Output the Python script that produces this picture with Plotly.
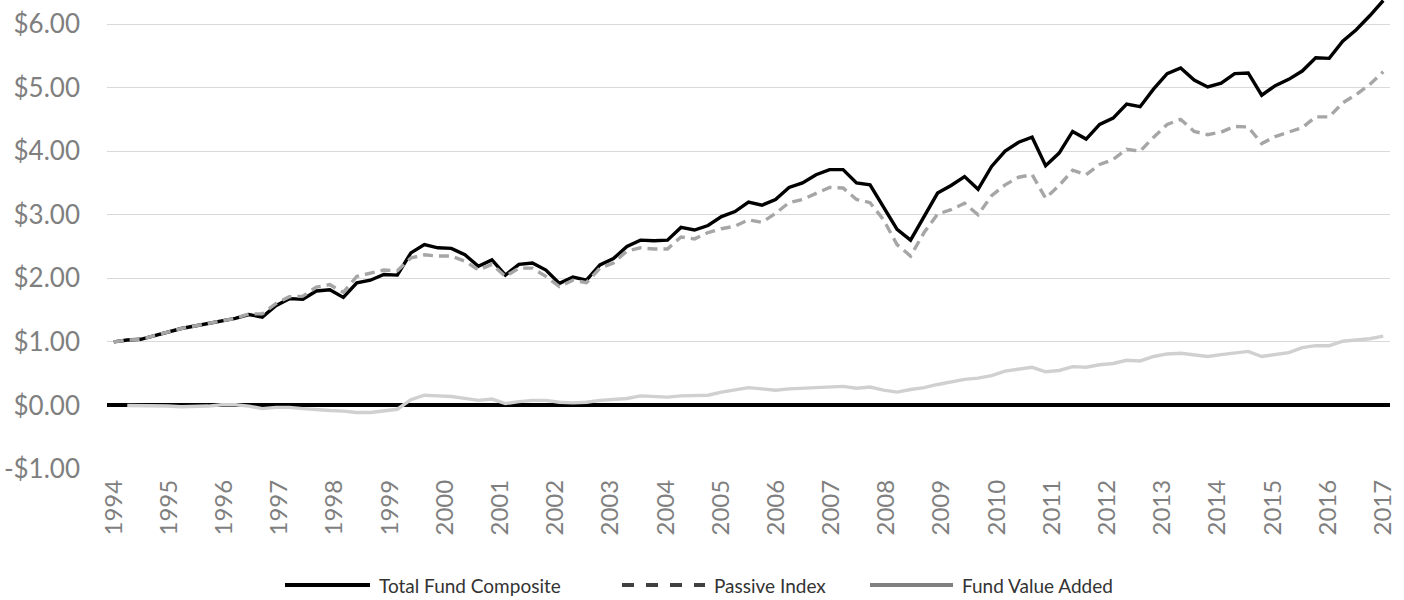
import plotly.graph_objects as go

years = [str(y) for y in range(1994, 2018)]

total_fund = [1.00, 1.03, 1.04, 1.10, 1.16, 1.21, 1.25, 1.29, 1.33, 1.37,
              1.43, 1.39, 1.57, 1.68, 1.67, 1.80, 1.82, 1.70, 1.93, 1.97,
              2.06, 2.05, 2.40, 2.53, 2.48, 2.47, 2.37, 2.19, 2.29, 2.05,
              2.22, 2.24, 2.13, 1.92, 2.02, 1.97, 2.21, 2.31, 2.50, 2.60,
              2.59, 2.60, 2.80, 2.76, 2.83, 2.97, 3.05, 3.20, 3.15, 3.24,
              3.43, 3.50, 3.63, 3.71, 3.71, 3.50, 3.47, 3.13, 2.77, 2.60,
              2.98, 3.34, 3.46, 3.60, 3.40, 3.76, 4.00, 4.14, 4.22, 3.77,
              3.97, 4.31, 4.19, 4.42, 4.52, 4.74, 4.70, 4.98, 5.22, 5.31,
              5.12, 5.01, 5.07, 5.22, 5.23, 4.88, 5.03, 5.13, 5.26, 5.47,
              5.46, 5.73, 5.91, 6.13, 6.37]

passive_index = [1.00, 1.03, 1.04, 1.10, 1.16, 1.21, 1.25, 1.29, 1.33, 1.37,
                 1.44, 1.44, 1.60, 1.71, 1.72, 1.86, 1.90, 1.78, 2.03, 2.08,
                 2.13, 2.12, 2.32, 2.37, 2.35, 2.35, 2.27, 2.13, 2.22, 2.03,
                 2.16, 2.16, 2.03, 1.87, 1.97, 1.93, 2.16, 2.24, 2.43, 2.48,
                 2.46, 2.46, 2.65, 2.62, 2.72, 2.78, 2.82, 2.92, 2.88, 3.02,
                 3.19, 3.24, 3.34, 3.43, 3.42, 3.24, 3.19, 2.92, 2.53, 2.35,
                 2.72, 3.01, 3.08, 3.18, 3.00, 3.30, 3.47, 3.59, 3.63, 3.26,
                 3.46, 3.70, 3.63, 3.79, 3.87, 4.03, 4.00, 4.22, 4.42, 4.50,
                 4.31, 4.26, 4.30, 4.39, 4.38, 4.12, 4.23, 4.30, 4.37, 4.54,
                 4.54, 4.76, 4.89, 5.05, 5.25]

value_added = [None, 0.00, 0.00, 0.00, -0.01, -0.02, -0.02, -0.01, 0.01, 0.01,
               -0.01, -0.05, -0.03, -0.03, -0.05, -0.07, -0.08, -0.09, -0.11, -0.11,
               -0.09, -0.06, 0.09, 0.16, 0.15, 0.14, 0.11, 0.08, 0.10, 0.03,
               0.06, 0.08, 0.08, 0.05, 0.04, 0.05, 0.08, 0.10, 0.11, 0.15,
               0.14, 0.13, 0.15, 0.15, 0.16, 0.21, 0.24, 0.28, 0.26, 0.24,
               0.26, 0.27, 0.27, 0.29, 0.30, 0.27, 0.29, 0.24, 0.21, 0.25,
               0.28, 0.33, 0.37, 0.41, 0.43, 0.47, 0.54, 0.57, 0.60, 0.53,
               0.55, 0.61, 0.60, 0.64, 0.66, 0.71, 0.70, 0.77, 0.81, 0.82,
               0.79, 0.77, 0.80, 0.83, 0.85, 0.77, 0.80, 0.83, 0.91, 0.94,
               0.94, 1.01, 1.03, 1.05, 1.09]

y_ticks = [-1, 0, 1, 2, 3, 4, 5, 6]
y_tick_text = ["-$1.00", "$0.00", "$1.00", "$2.00", "$3.00", "$4.00", "$5.00", "$6.00"]

series_names = ["Total Fund Composite", "Passive Index", "Fund Value Added"]

n = len(total_fund)
x = list(range(n))
# year labels spread evenly from the first to the last observation
tick_pos = [k * (n - 1) / (len(years) - 1) for k in range(len(years))]

fig = go.Figure()
fig.add_trace(go.Scatter(x=x, y=total_fund, mode="lines", name=series_names[0],
                         line=dict(color="#000000", width=3.4)))
fig.add_trace(go.Scatter(x=x, y=passive_index, mode="lines", name=series_names[1],
                         line=dict(color="#A6A6A6", width=3.4, dash="10px,6px")))
fig.add_trace(go.Scatter(x=x, y=value_added, mode="lines", name=series_names[2],
                         line=dict(color="#D0D0D0", width=3.4)))

font_family = "Lato, 'Open Sans', sans-serif"

fig.update_layout(
    width=1404, height=600,
    margin=dict(l=107, r=14, t=0, b=131),
    paper_bgcolor="white", plot_bgcolor="white",
    showlegend=False,
    xaxis=dict(range=[-0.5, n - 0.5], tickmode="array", tickvals=tick_pos,
               ticktext=years, tickangle=-90, showgrid=False, zeroline=False,
               showline=False, ticks="", ticklabelstandoff=5,
               tickfont=dict(family=font_family, size=24, color="#7F7F7F")),
    yaxis=dict(range=[-1, 6.378], tickmode="array", tickvals=y_ticks,
               ticktext=y_tick_text, showgrid=True, gridcolor="#D9D9D9", gridwidth=1.3,
               zeroline=True, zerolinecolor="#000000", zerolinewidth=3.5,
               showline=False, ticks="", ticklabelstandoff=26,
               tickfont=dict(family=font_family, size=26, color="#7F7F7F")),
)

# Legend drawn below the plot
legend_items = [
    (series_names[0], 285, 370, "#000000", "solid"),
    (series_names[1], 622, 705, "#404040", "dash"),
    (series_names[2], 870, 953, "#808080", "solid"),
]
for name, x0, x1, col, dash in legend_items:
    fig.add_shape(type="line", xref="paper", yref="paper",
                  x0=(x0 - 107) / 1283, x1=(x1 - 107) / 1283,
                  y0=-(585 - 469) / 469, y1=-(585 - 469) / 469,
                  line=dict(color=col, width=4, dash=dash))
    fig.add_annotation(text=name, xref="paper", yref="paper",
                       x=(x1 + 7 - 107) / 1283, y=-(585 - 469) / 469,
                       xanchor="left", yanchor="middle", showarrow=False,
                       font=dict(family=font_family, size=19, color="#333333"))

fig.write_html("out.html", config={"displayModeBar": False},
               post_script="document.body.style.margin='0px';")
